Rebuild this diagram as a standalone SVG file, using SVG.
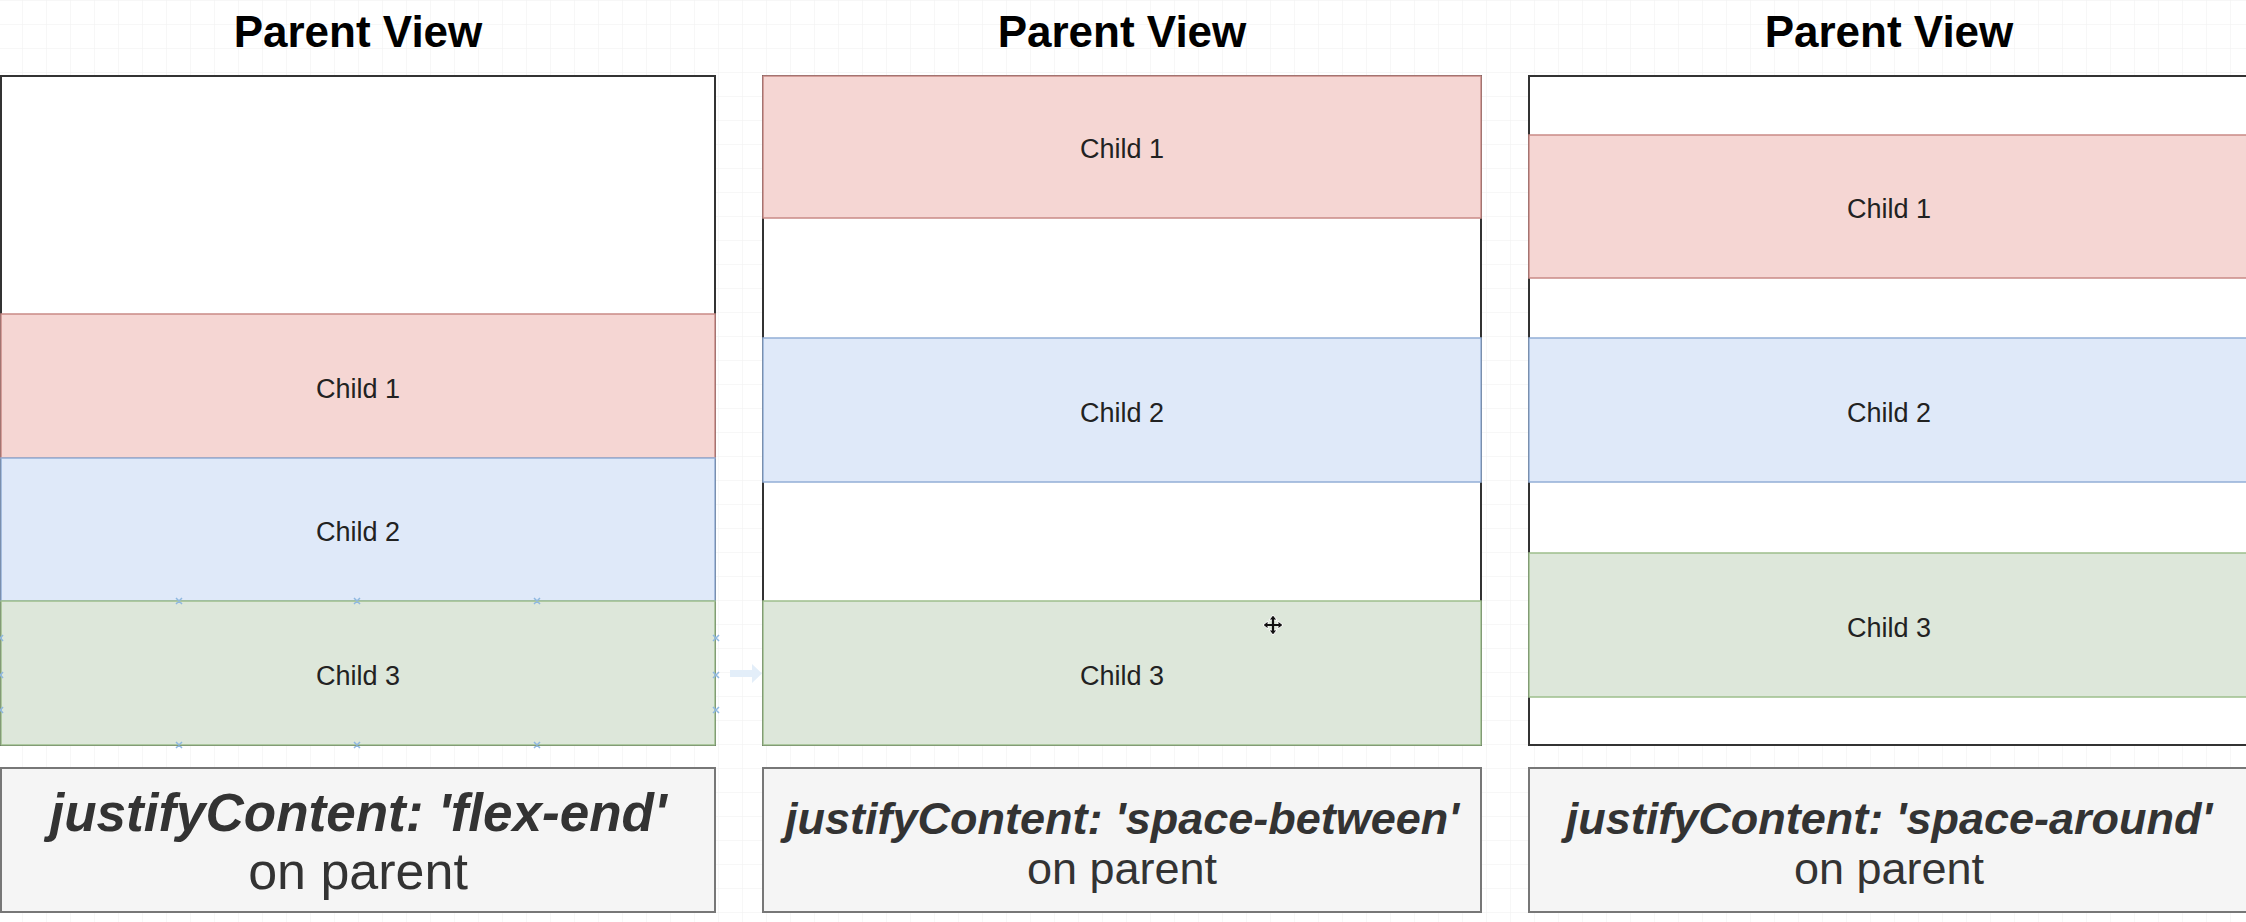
<svg xmlns="http://www.w3.org/2000/svg" width="2246" height="922" viewBox="0 0 2246 922">
  <defs>
    <pattern id="grid" x="22" y="0" width="24" height="24" patternUnits="userSpaceOnUse">
      <path d="M0 0 H24 M0 0 V24" fill="none" stroke="#f0f0f0" stroke-width="1"/>
    </pattern>
    <style>
      .title { font-family: "Liberation Sans", Arial, Helvetica, sans-serif; font-weight: bold; font-size: 44px; fill: #000; text-anchor: middle; }
      .parent { fill: #ffffff; stroke: #333333; stroke-width: 2; }
      .c1 { fill: #f5d6d3; stroke: #c98a86; stroke-width: 1.5; }
      .c2 { fill: #dfe9f9; stroke: #93aed6; stroke-width: 1.5; }
      .c3 { fill: #dde7da; stroke: #9dbf8c; stroke-width: 1.5; }
      .clabel { font-family: "Liberation Sans", Arial, Helvetica, sans-serif; font-size: 27px; fill: #222; text-anchor: middle; }
      .lbox { fill: #f5f5f5; stroke: #777777; stroke-width: 2; }
      .code { font-family: "Liberation Sans", Arial, Helvetica, sans-serif; font-weight: bold; font-style: italic; fill: #333; text-anchor: middle; }
      .sub { font-family: "Liberation Sans", Arial, Helvetica, sans-serif; fill: #333; text-anchor: middle; }
      .xm { stroke: #8fb8e0; stroke-width: 1.5; fill: none; }
    </style>
  </defs>

  <rect x="0" y="0" width="2246" height="922" fill="#ffffff"/>
  <rect x="0" y="0" width="2246" height="922" fill="url(#grid)"/>

  <!-- Panel 1: flex-end -->
  <g id="panel-flex-end">
    <text class="title" x="358" y="47">Parent View</text>
    <rect class="parent" x="1" y="76" width="714" height="669"/>
    <g id="p1-child1">
      <rect class="c1" x="1" y="314" width="714" height="144"/>
      <text class="clabel" x="358" y="397.5">Child 1</text>
    </g>
    <g id="p1-child2">
      <rect class="c2" x="1" y="458" width="714" height="143"/>
      <text class="clabel" x="358" y="541">Child 2</text>
    </g>
    <g id="p1-child3">
      <rect class="c3" x="1" y="601" width="714" height="144"/>
      <text class="clabel" x="358" y="684.5">Child 3</text>
    </g>
    <g id="p1-label">
      <rect class="lbox" x="1" y="768" width="714" height="144"/>
      <text class="code" x="358" y="831" font-size="53">justifyContent: 'flex-end'</text>
      <text class="sub" x="358" y="889" font-size="52">on parent</text>
    </g>
  </g>

  <!-- Panel 2: space-between -->
  <g id="panel-space-between">
    <text class="title" x="1122" y="47">Parent View</text>
    <rect class="parent" x="763" y="76" width="718" height="669"/>
    <g id="p2-child1">
      <rect class="c1" x="763" y="76" width="718" height="142"/>
      <text class="clabel" x="1122" y="158">Child 1</text>
    </g>
    <g id="p2-child2">
      <rect class="c2" x="763" y="338" width="718" height="144"/>
      <text class="clabel" x="1122" y="421.5">Child 2</text>
    </g>
    <g id="p2-child3">
      <rect class="c3" x="763" y="601" width="718" height="144"/>
      <text class="clabel" x="1122" y="684.5">Child 3</text>
    </g>
    <g id="p2-label">
      <rect class="lbox" x="763" y="768" width="718" height="144"/>
      <text class="code" x="1122" y="834" font-size="45">justifyContent: 'space-between'</text>
      <text class="sub" x="1122" y="884" font-size="45">on parent</text>
    </g>
  </g>

  <!-- Panel 3: space-around -->
  <g id="panel-space-around">
    <text class="title" x="1889" y="47">Parent View</text>
    <rect class="parent" x="1529" y="76" width="720" height="669"/>
    <g id="p3-child1">
      <rect class="c1" x="1529" y="135" width="720" height="143"/>
      <text class="clabel" x="1889" y="218">Child 1</text>
    </g>
    <g id="p3-child2">
      <rect class="c2" x="1529" y="338" width="720" height="144"/>
      <text class="clabel" x="1889" y="421.5">Child 2</text>
    </g>
    <g id="p3-child3">
      <rect class="c3" x="1529" y="553" width="720" height="144"/>
      <text class="clabel" x="1889" y="636.5">Child 3</text>
    </g>
    <g id="p3-label">
      <rect class="lbox" x="1529" y="768" width="720" height="144"/>
      <text class="code" x="1889" y="834" font-size="45">justifyContent: 'space-around'</text>
      <text class="sub" x="1889" y="884" font-size="45">on parent</text>
    </g>
  </g>

  <!-- editor hover artifacts -->
  <g id="connectors">
    <g id="hover-marks">
      <path class="xm" d="M176 598 l6 6 M182 598 l-6 6 M354 598 l6 6 M360 598 l-6 6 M534 598 l6 6 M540 598 l-6 6"/>
      <path class="xm" d="M176 742 l6 6 M182 742 l-6 6 M354 742 l6 6 M360 742 l-6 6 M534 742 l6 6 M540 742 l-6 6"/>
      <path class="xm" d="M-2 635 l5 6 M3 635 l-5 6 M-2 672 l5 6 M3 672 l-5 6 M-2 707 l5 6 M3 707 l-5 6"/>
      <path class="xm" d="M713 635 l6 6 M719 635 l-6 6 M713 672 l6 6 M719 672 l-6 6 M713 707 l6 6 M719 707 l-6 6"/>
      <path d="M730 670 H752 V664 L762 673.5 L752 683 V677 H730 Z" fill="#e3eef9"/>
    </g>
    <g id="move-cursor" transform="translate(1273 625)">
      <path d="M0 -10 L-4 -5 H4 Z M0 10 L-4 5 H4 Z M-10 0 L-5 -4 V4 Z M10 0 L5 -4 V4 Z" fill="#111" stroke="#fff" stroke-width="1"/>
      <path d="M0 -7 V7 M-7 0 H7" stroke="#111" stroke-width="2.2"/>
    </g>
  </g>
</svg>
